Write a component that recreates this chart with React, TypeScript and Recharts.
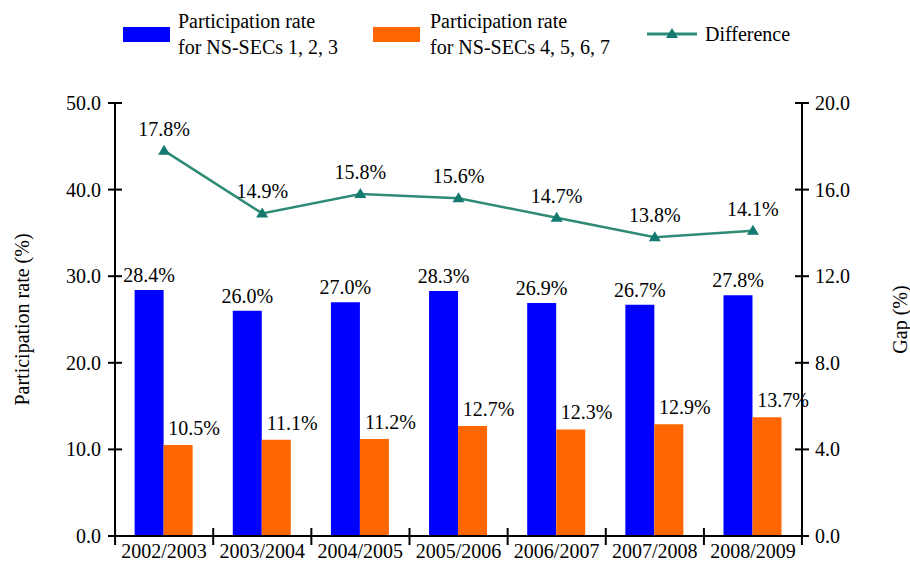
import React from 'react';
import { ComposedChart, Bar, Line, XAxis, YAxis, LabelList } from 'recharts';

const categories = ['2002/2003', '2003/2004', '2004/2005', '2005/2006', '2006/2007', '2007/2008', '2008/2009'];
const highRate = [28.4, 26.0, 27.0, 28.3, 26.9, 26.7, 27.8];
const lowRate = [10.5, 11.1, 11.2, 12.7, 12.3, 12.9, 13.7];
const difference = [17.8, 14.9, 15.8, 15.6, 14.7, 13.8, 14.1];
const leftTicks = [0, 10, 20, 30, 40, 50];
const rightTicks = [0, 4, 8, 12, 16, 20];
const seriesNames = ['Participation rate\nfor NS-SECs 1, 2, 3', 'Participation rate\nfor NS-SECs 4, 5, 6, 7', 'Difference'];

const data = categories.map((name, i) => ({
  name,
  high: highRate[i],
  low: lowRate[i],
  diff: difference[i],
}));

const FONT = '"Liberation Serif", "DejaVu Serif", serif';
const BLUE = '#0000ff';
const ORANGE = '#ff6600';
const TEAL = '#2e8b76';
const TEAL_DARK = '#147a70';

const pct = (v: number) => `${v.toFixed(1)}%`;

const LeftTick = ({ x, y, payload }: any) => (
  <g>
    <line x1={x - 7} x2={x + 7} y1={y} y2={y} stroke="#000" strokeWidth={2} />
    <text x={x - 14} y={y} dy={7} textAnchor="end" fontSize={20} fontFamily={FONT} fill="#000">
      {Number(payload.value).toFixed(1)}
    </text>
  </g>
);

const RightTick = ({ x, y, payload }: any) => (
  <g>
    <line x1={x - 7} x2={x + 7} y1={y} y2={y} stroke="#000" strokeWidth={2} />
    <text x={x + 13} y={y} dy={7} textAnchor="start" fontSize={20} fontFamily={FONT} fill="#000">
      {Number(payload.value).toFixed(1)}
    </text>
  </g>
);

const XTick = ({ x, y, payload, index }: any) => {
  const half = 49;
  return (
    <g>
      <line x1={x - half} x2={x - half} y1={y - 8} y2={y + 9} stroke="#000" strokeWidth={2} />
      {index === categories.length - 1 && (
        <line x1={x + half} x2={x + half} y1={y - 8} y2={y + 9} stroke="#000" strokeWidth={2} />
      )}
      <text x={x} y={y + 22} textAnchor="middle" fontSize={20} fontFamily={FONT} fill="#000">
        {payload.value}
      </text>
    </g>
  );
};

const TriangleDot = ({ cx, cy, index }: any) => (
  <polygon
    key={`dot-${index}`}
    points={`${cx},${cy - 6} ${cx - 6},${cy + 4} ${cx + 6},${cy + 4}`}
    fill={TEAL_DARK}
  />
);

const makeLabel = (dx: number, dy: number, center: boolean) => (props: any) => {
  const { x, y, width, value } = props;
  const cx = center ? x + width / 2 : x;
  return (
    <text x={cx + dx} y={y - dy} textAnchor="middle" fontSize={20} fontFamily={FONT} fill="#000">
      {pct(value)}
    </text>
  );
};

function LegendBox() {
  const textStyle: React.CSSProperties = {
    position: 'absolute',
    fontSize: 20,
    lineHeight: '26px',
    whiteSpace: 'pre',
    color: '#000',
  };
  return (
    <div style={{ position: 'absolute', left: 0, top: 0, width: 910, height: 70 }}>
      <div style={{ position: 'absolute', left: 123, top: 27, width: 47, height: 15, background: BLUE }} />
      <div style={{ ...textStyle, left: 178, top: 8 }}>{seriesNames[0]}</div>
      <div style={{ position: 'absolute', left: 373, top: 27, width: 47, height: 15, background: ORANGE }} />
      <div style={{ ...textStyle, left: 430, top: 8 }}>{seriesNames[1]}</div>
      <svg style={{ position: 'absolute', left: 645, top: 25 }} width={56} height={20}>
        <line x1={2} x2={52} y1={9} y2={9} stroke={TEAL} strokeWidth={3} />
        <polygon points="27,3 21,13 33,13" fill={TEAL_DARK} />
      </svg>
      <div style={{ ...textStyle, left: 705, top: 21 }}>{seriesNames[2]}</div>
    </div>
  );
}

export default function App() {
  return (
    <div style={{ position: 'absolute', left: 0, top: 0, width: 910, height: 561, fontFamily: FONT, background: '#fff' }}>
      <LegendBox />
      <ComposedChart
        width={910}
        height={561}
        data={data}
        margin={{ top: 103, right: 0, bottom: 0, left: 0 }}
        barCategoryGap="20%"
        barGap={0}
      >
        <XAxis
          dataKey="name"
          height={25}
          tick={<XTick />}
          tickLine={false}
          tickSize={0}
          tickMargin={0}
          axisLine={{ stroke: '#000', strokeWidth: 2 }}
          interval={0}
        />
        <YAxis
          yAxisId="left"
          width={115}
          domain={[0, 50]}
          ticks={leftTicks}
          tick={<LeftTick />}
          tickLine={false}
          tickSize={0}
          tickMargin={0}
          axisLine={{ stroke: '#000', strokeWidth: 2 }}
          label={{
            value: 'Participation rate (%)',
            angle: -90,
            position: 'insideLeft',
            offset: 22,
            style: { textAnchor: 'middle', fontSize: 20, fill: '#000', fontFamily: FONT },
          }}
        />
        <YAxis
          yAxisId="right"
          orientation="right"
          width={108}
          domain={[0, 20]}
          ticks={rightTicks}
          tick={<RightTick />}
          tickLine={false}
          tickSize={0}
          tickMargin={0}
          axisLine={{ stroke: '#000', strokeWidth: 2 }}
          label={{
            value: 'Gap (%)',
            angle: -90,
            position: 'insideRight',
            offset: 10,
            style: { textAnchor: 'middle', fontSize: 20, fill: '#000', fontFamily: FONT },
          }}
        />
        <Bar yAxisId="left" dataKey="high" fill={BLUE} isAnimationActive={false}>
          <LabelList dataKey="high" content={makeLabel(0, 8, true)} />
        </Bar>
        <Bar yAxisId="left" dataKey="low" fill={ORANGE} isAnimationActive={false}>
          <LabelList dataKey="low" content={makeLabel(16, 10, true)} />
        </Bar>
        <Line
          yAxisId="right"
          dataKey="diff"
          stroke={TEAL}
          strokeWidth={2.5}
          dot={(p: any) => <TriangleDot key={`d-${p.index}`} {...p} />}
          activeDot={false}
          isAnimationActive={false}
        >
          <LabelList dataKey="diff" content={makeLabel(0, 15, false)} />
        </Line>
      </ComposedChart>
    </div>
  );
}
